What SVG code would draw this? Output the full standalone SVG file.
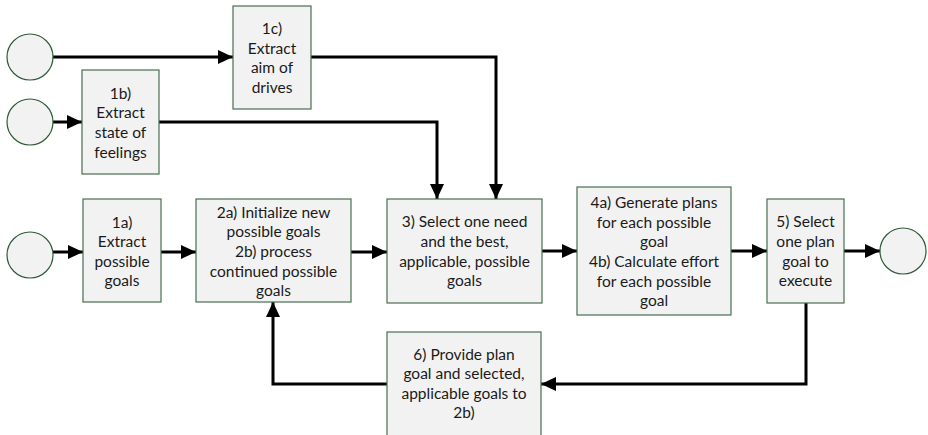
<svg xmlns="http://www.w3.org/2000/svg" width="928" height="435" viewBox="0 0 928 435">
<style>
.box{fill:#f2f2f2;stroke:#4a6e52;stroke-width:1.2}
.ev{fill:#f2f2f2;stroke:#2f5a37;stroke-width:1.2}
.t{font-family:Lato,"Open Sans",sans-serif;font-size:15.5px;fill:#1a1a1a;text-anchor:middle}
.c{fill:none;stroke:#000;stroke-width:3;marker-end:url(#ah)}
</style>
<defs>
<marker id="ah" markerUnits="userSpaceOnUse" markerWidth="16" markerHeight="14" refX="15" refY="7" orient="auto">
<path d="M0,0 L15,7 L0,14 Z" fill="#000"/>
</marker>
</defs>
<rect width="928" height="435" fill="#fff"/>
<g id="connectors">
<path class="c" d="M52,57 H233"/>
<path class="c" d="M311,57 H496 V199"/>
<path class="c" d="M52,122 H82"/>
<path class="c" d="M159,122 H437 V199"/>
<path class="c" d="M53,252 H83"/>
<path class="c" d="M161,252 H196"/>
<path class="c" d="M351,252 H387"/>
<path class="c" d="M542,251 H577"/>
<path class="c" d="M731,251 H767"/>
<path class="c" d="M844,251 H880"/>
<path class="c" d="M806,303 V384 H541"/>
<path class="c" d="M387,384 H273 V302"/>
</g>
<g id="start1c"><circle class="ev" cx="30" cy="57" r="23"/></g>
<g id="start1b"><circle class="ev" cx="30" cy="122" r="23"/></g>
<g id="start1a"><circle class="ev" cx="30" cy="255" r="23"/></g>
<g id="end"><circle class="ev" cx="903" cy="251" r="23"/></g>
<g id="n1c"><rect class="box" x="233" y="6" width="78" height="103"/>
<text class="t"><tspan x="272" y="34">1c)</tspan><tspan x="272" y="54">Extract</tspan><tspan x="272" y="73">aim of</tspan><tspan x="272" y="93">drives</tspan></text></g>
<g id="n1b"><rect class="box" x="82" y="70" width="77" height="104"/>
<text class="t"><tspan x="120.5" y="99">1b)</tspan><tspan x="120.5" y="118">Extract</tspan><tspan x="120.5" y="138">state of</tspan><tspan x="120.5" y="158">feelings</tspan></text></g>
<g id="n1a"><rect class="box" x="83" y="199" width="78" height="103"/>
<text class="t"><tspan x="122" y="228">1a)</tspan><tspan x="122" y="247">Extract</tspan><tspan x="122" y="267">possible</tspan><tspan x="122" y="286">goals</tspan></text></g>
<g id="n2"><rect class="box" x="196" y="199" width="155" height="103"/>
<text class="t"><tspan x="273.5" y="218">2a) Initialize new</tspan><tspan x="273.5" y="237">possible goals</tspan><tspan x="273.5" y="257">2b) process</tspan><tspan x="273.5" y="277">continued possible</tspan><tspan x="273.5" y="296">goals</tspan></text></g>
<g id="n3"><rect class="box" x="387" y="199" width="155" height="104"/>
<text class="t"><tspan x="464.5" y="227">3) Select one need</tspan><tspan x="464.5" y="247">and the best,</tspan><tspan x="464.5" y="267">applicable, possible</tspan><tspan x="464.5" y="286">goals</tspan></text></g>
<g id="n4"><rect class="box" x="577" y="187" width="154" height="128"/>
<text class="t"><tspan x="654" y="208">4a) Generate plans</tspan><tspan x="654" y="228">for each possible</tspan><tspan x="654" y="247">goal</tspan><tspan x="654" y="267">4b) Calculate effort</tspan><tspan x="654" y="287">for each possible</tspan><tspan x="654" y="306">goal</tspan></text></g>
<g id="n5"><rect class="box" x="767" y="199" width="77" height="104"/>
<text class="t"><tspan x="805.5" y="227">5) Select</tspan><tspan x="805.5" y="247">one plan</tspan><tspan x="805.5" y="267">goal to</tspan><tspan x="805.5" y="286">execute</tspan></text></g>
<g id="n6"><rect class="box" x="387" y="332" width="154" height="106"/>
<text class="t"><tspan x="464" y="360">6) Provide plan</tspan><tspan x="464" y="379">goal and selected,</tspan><tspan x="464" y="399">applicable goals to</tspan><tspan x="464" y="418">2b)</tspan></text></g>
</svg>
